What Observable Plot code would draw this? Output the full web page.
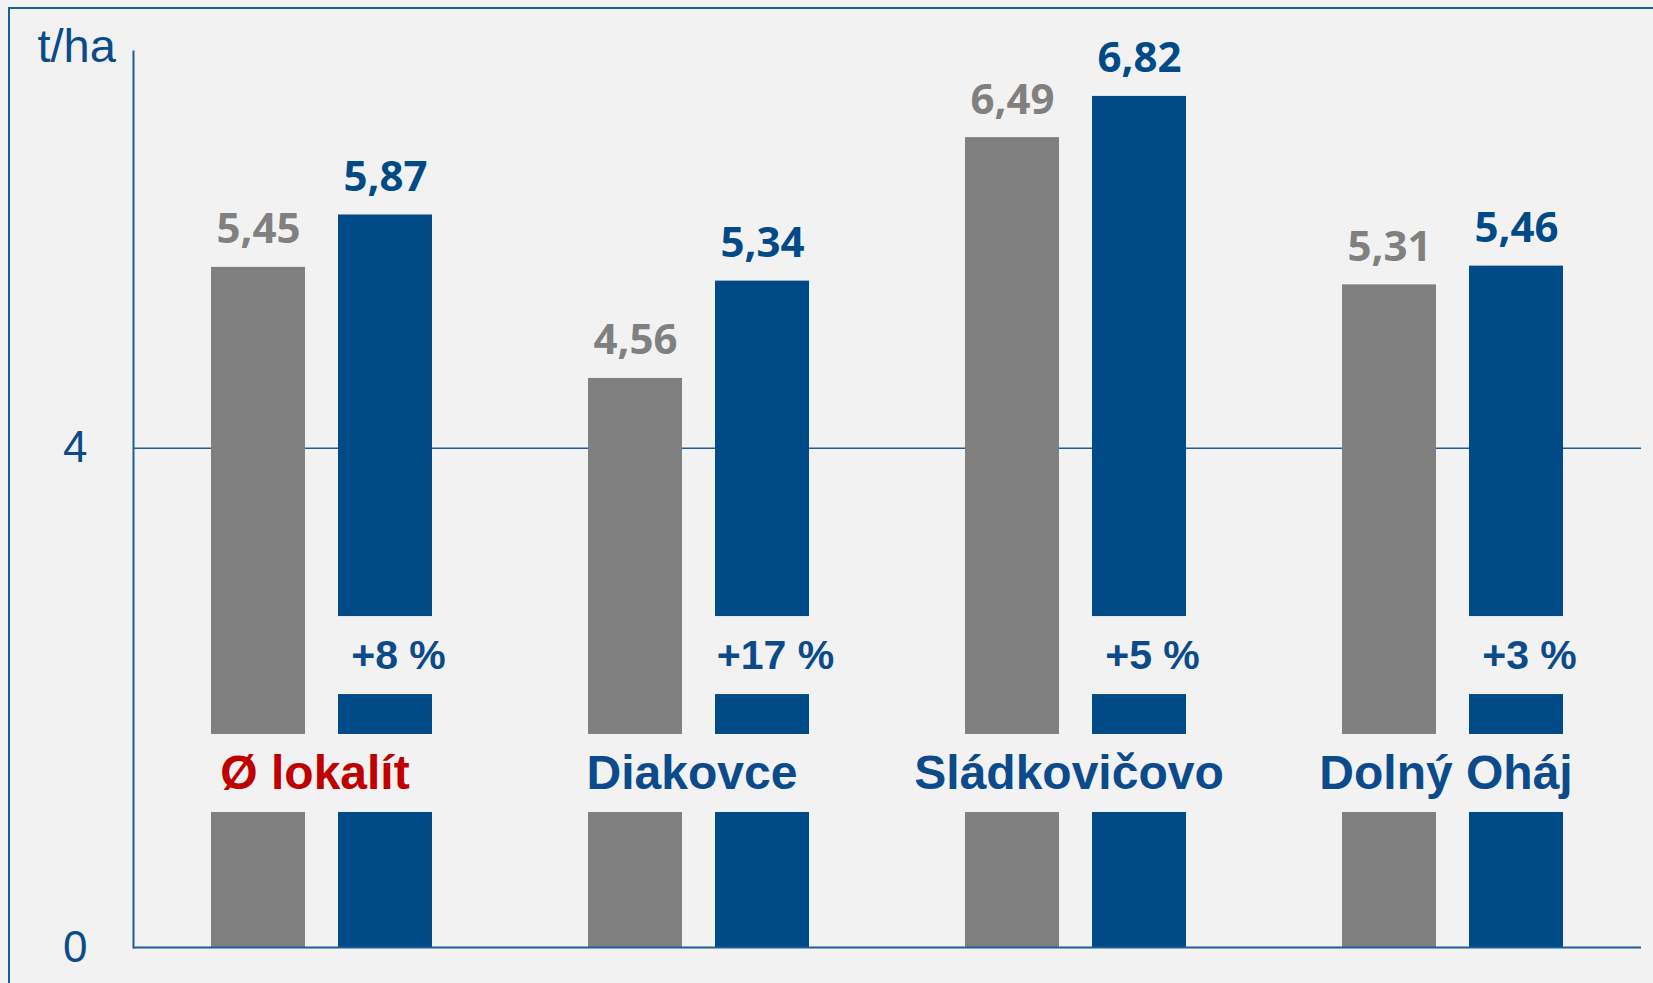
<!DOCTYPE html>
<html><head><meta charset="utf-8">
<script src="https://cdn.jsdelivr.net/npm/d3@7"></script>
<script src="https://cdn.jsdelivr.net/npm/@observablehq/plot@0.6"></script>
<style>
html,body{margin:0;padding:0;background:#f2f2f2;overflow:hidden}
#wrap{position:relative;width:1653px;height:983px;background:#f2f2f2;overflow:hidden}
#chart{position:absolute;left:0;top:0}
#border{position:absolute;left:8px;top:7px;width:1700px;height:1100px;border:2px solid #1f5c9a;box-sizing:border-box;pointer-events:none}
</style></head><body><div id="wrap"><div id="chart"></div><div id="border"></div></div>
<script>
// ---- data ----
const categories = ["Ø lokalít", "Diakovce", "Sládkovičovo", "Dolný Oháj"];
const series = ["kontrola", "variant"];
const grayValues = [5.45, 4.56, 6.49, 5.31];
const blueValues = [5.87, 5.34, 6.82, 5.46];
const changeLabels = ["+8 %", "+17 %", "+5 %", "+3 %"];
const yTicks = [0, 4];
const yUnit = "t/ha";

// ---- styles / layout constants ----
const GRAY = "#808080", BLUE = "#004a87", TEXT_BLUE = "#0b4a8b", RED = "#c00000", BG = "#f2f2f2", AXIS = "#1f5c9a";
const BAND_LO = 1.082, BAND_HI = 1.707, CAT_Y = 1.394;   // category label band (cut out of bars)
const GAP_LO = 2.027, GAP_HI = 2.652, PCT_Y = 2.339;     // change label gap (cut out of blue bars)

const rows = categories.flatMap((c, i) => [
  {cat: c, series: series[0], value: grayValues[i]},
  {cat: c, series: series[1], value: blueValues[i]}
]);
const pctRows = categories.map((c, i) => ({cat: c, series: series[1], label: changeLabels[i]}));
const fmt = v => v.toFixed(2).replace(".", ",");

const chart = Plot.plot({
  width: 1653, height: 983,
  marginLeft: 131, marginRight: 11, marginTop: 51, marginBottom: 36,
  style: {background: "transparent", fontFamily: "'Liberation Sans', Arial, sans-serif", overflow: "visible"},
  fx: {domain: categories, padding: 0, axis: null},
  x: {domain: series, paddingInner: 0.258, paddingOuter: 0.608, axis: null},
  y: {domain: [0, 7.18], axis: null},
  color: {domain: series, range: [GRAY, BLUE]},
  marks: [
    Plot.ruleY([4], {stroke: AXIS, strokeWidth: 1.5}),
    Plot.barY(rows, {fx: "cat", x: "series", y: "value", fill: "series"}),
    Plot.barY(rows, {fx: "cat", x: "series", y1: BAND_LO, y2: BAND_HI, fill: BG}),
    Plot.barY(rows.filter(d => d.series === series[1]), {fx: "cat", x: "series", y1: GAP_LO, y2: GAP_HI, fill: BG}),
    Plot.ruleY([0], {stroke: AXIS, strokeWidth: 2}),
    Plot.frame({anchor: "left", facetAnchor: "left", stroke: AXIS, strokeWidth: 2}),
    Plot.axisY({ticks: yTicks, tickSize: 0, tickPadding: 46, fontSize: 44, fill: TEXT_BLUE, label: null, tickFormat: d => String(d)}),
    Plot.text(rows, {fx: "cat", x: "series", y: "value", text: d => fmt(d.value), fill: "series",
      lineAnchor: "bottom", dy: -24, fontFamily: "'Open Sans', sans-serif", fontWeight: 700, fontSize: 42}),
    Plot.text(pctRows, {fx: "cat", x: "series", y: PCT_Y, text: "label", fill: TEXT_BLUE, dx: 13,
      fontWeight: 700, fontSize: 41}),
    Plot.text(categories.slice(0, 1), {fx: d => d, y: CAT_Y, text: d => d, fill: RED, dx: -7, fontWeight: 700, fontSize: 48}),
    Plot.text(categories.slice(1), {fx: d => d, y: CAT_Y, text: d => d, fill: TEXT_BLUE, dx: -7, fontWeight: 700, fontSize: 48}),
    Plot.text([yUnit], {frameAnchor: "top-left", facetAnchor: "left", text: d => d, dx: -96, dy: 10,
      lineAnchor: "bottom", textAnchor: "start", fontSize: 47, fill: TEXT_BLUE})
  ]
});
document.getElementById("chart").appendChild(chart);
</script></body></html>
